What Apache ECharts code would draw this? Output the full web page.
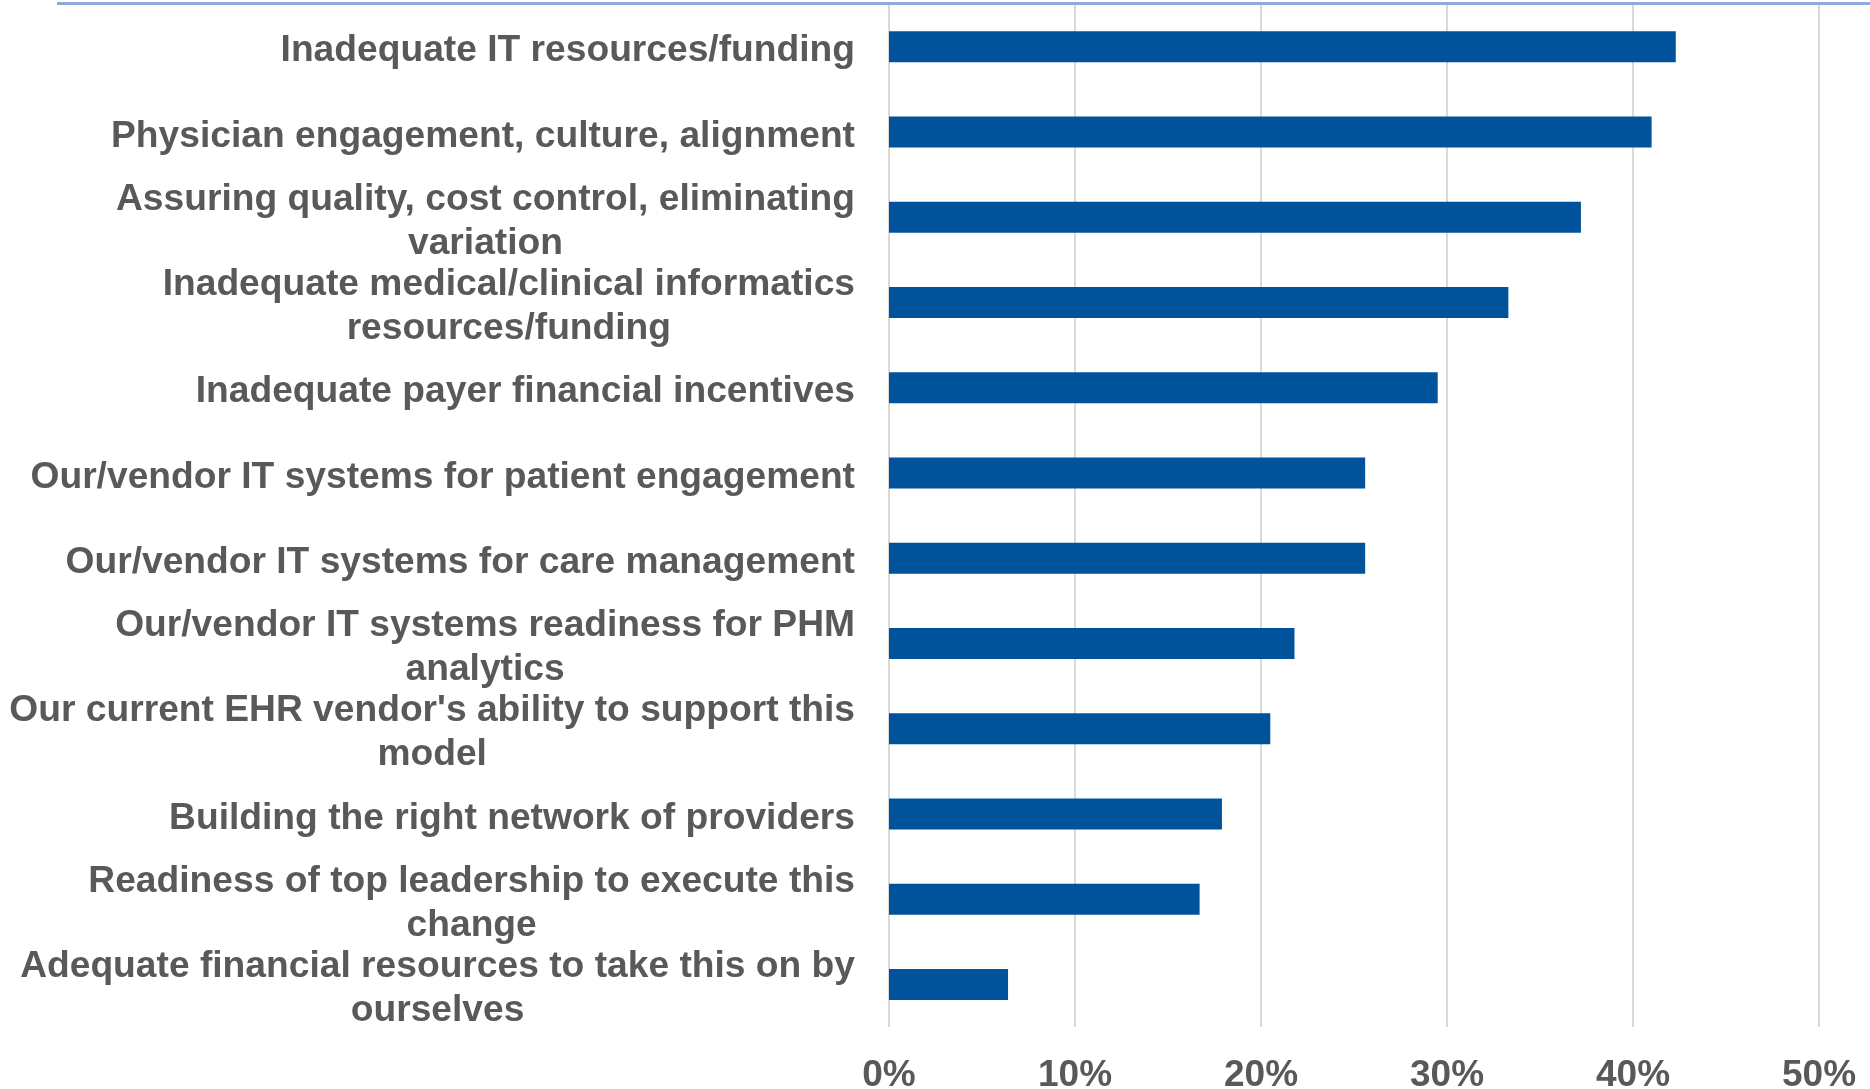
<!DOCTYPE html>
<html>
<head>
<meta charset="utf-8">
<script src="https://cdn.jsdelivr.net/npm/echarts@6/dist/echarts.min.js"></script>
<style>
html,body{margin:0;padding:0;background:#fff;}
#chart{width:1870px;height:1089px;}
</style>
</head>
<body>
<div id="chart"></div>
<script>
const categories = [
  "Inadequate IT resources/funding",
  "Physician engagement, culture, alignment",
  "Assuring quality, cost control, eliminating\nvariation",
  "Inadequate medical/clinical informatics\nresources/funding",
  "Inadequate payer financial incentives",
  "Our/vendor IT systems for patient engagement",
  "Our/vendor IT systems for care management",
  "Our/vendor IT systems readiness for PHM\nanalytics",
  "Our current EHR vendor's ability to support this\nmodel",
  "Building the right network of providers",
  "Readiness of top leadership to execute this\nchange",
  "Adequate financial resources to take this on by\nourselves"
];
const values = [42.3, 41.0, 37.2, 33.3, 29.5, 25.6, 25.6, 21.8, 20.5, 17.9, 16.7, 6.4];
const xTicks = [0, 10, 20, 30, 40, 50];

const FONT = "'Liberation Sans', Arial, sans-serif";
const GRAY = '#595959';

const chart = echarts.init(document.getElementById('chart'), null, {renderer: 'canvas'});
chart.setOption({
  animation: false,
  backgroundColor: '#ffffff',
  grid: {left: 889, right: 51, top: 4, bottom: 62, containLabel: false, outerBoundsMode: 'none'},
  xAxis: {
    type: 'value',
    min: xTicks[0],
    max: xTicks[xTicks.length - 1],
    interval: xTicks[1] - xTicks[0],
    axisLine: {show: false},
    axisTick: {show: false},
    splitLine: {show: true, lineStyle: {color: '#d9d9d9', width: 2}},
    axisLabel: {
      formatter: '{value}%',
      margin: 30,
      fontSize: 37,
      fontWeight: 'bold',
      fontFamily: FONT,
      color: GRAY
    }
  },
  yAxis: {
    type: 'category',
    inverse: true,
    data: categories,
    axisLine: {show: false},
    axisTick: {show: false},
    splitLine: {show: false},
    axisLabel: {
      interval: 0,
      margin: 34,
      align: 'right',
      padding: [9, 0, 0, 0],
      formatter: function (v) {
        return v.split('\n').map(function (l) { return '{c|' + l + '}'; }).join('\n');
      },
      rich: {
        c: {
          align: 'center',
          fontSize: 37.2,
          fontWeight: 'bold',
          fontFamily: FONT,
          color: GRAY,
          lineHeight: 44
        }
      }
    }
  },
  series: [{
    type: 'bar',
    data: values,
    barWidth: 31,
    itemStyle: {color: '#00539b'}
  }],
  graphic: [{
    type: 'line',
    shape: {x1: 57, y1: 3.5, x2: 1870, y2: 3.5},
    style: {stroke: '#8eaadb', lineWidth: 3},
    z: 10
  }]
});
</script>
</body>
</html>
